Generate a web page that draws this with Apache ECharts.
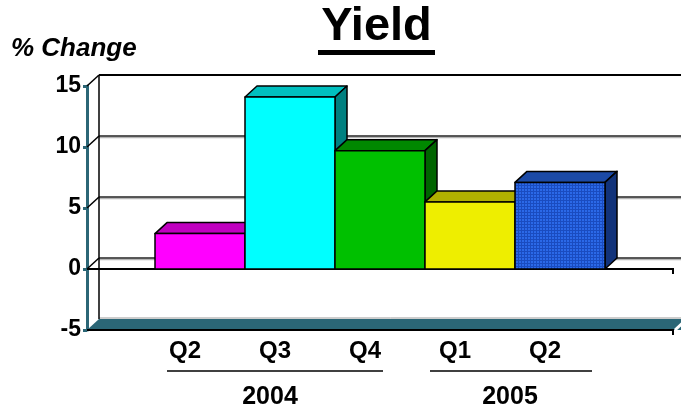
<!DOCTYPE html>
<html>
<head>
<meta charset="utf-8">
<script src="https://cdn.jsdelivr.net/npm/echarts@6/dist/echarts.min.js"></script>
<style>
  html, body { margin: 0; padding: 0; background: #ffffff; }
  #chart { width: 681px; height: 410px; }
</style>
</head>
<body>
<div id="chart"></div>
<script>
// Quarterly yield, % change
const categories = ['Q2', 'Q3', 'Q4', 'Q1', 'Q2'];
const values = [2.9, 14.1, 9.7, 5.5, 7.1];
const years = ['2004', '2005'];
const yMin = -5, yMax = 15, yStep = 5;

// Face colours for each bar: front, top, side
const frontColors = ['#ff00ff', '#00ffff', '#00c000', '#eeee00', null];
const topColors = ['#c000c0', '#00c0c0', '#008800', '#b0b000', '#1c4aa6'];
const sideColors = ['#900090', '#008080', '#006400', '#8a8a00', '#12337a'];

// Fine checkered fill for the last bar
function makePattern(light, dark) {
  const c = document.createElement('canvas');
  c.width = 3; c.height = 3;
  const g = c.getContext('2d');
  g.fillStyle = light; g.fillRect(0, 0, 3, 3);
  g.fillStyle = dark; g.fillRect(2, 0, 1, 3); g.fillRect(0, 2, 3, 1);
  return { image: c, repeat: 'repeat' };
}
frontColors[4] = makePattern('#2b69e8', '#1a4cc0');

const DX = 12, DY = -11;        // depth offset of the 3D box
const SIDE = 68;                // frame extends beyond the bar band on both sides
const TEAL = '#2b6676';
const FONT = '"Liberation Sans", Arial';

const chart = echarts.init(document.getElementById('chart'), null, { renderer: 'canvas' });

function frameItem(params, api) {
  const cs = params.coordSys;
  const L = cs.x - SIDE, R = cs.x + cs.width + SIDE;
  const y = v => api.coord([0, v])[1];
  const yB = y(yMin), y0 = y(0);
  const far = 700;
  const kids = [];
  // floor slab
  kids.push({ type: 'polygon', shape: { points: [[L, yB], [far, yB], [far, yB + DY], [L + DX, yB + DY]] },
    style: { fill: TEAL, stroke: null } });
  kids.push({ type: 'line', shape: { x1: L + DX, y1: yB + DY - 1, x2: far, y2: yB + DY - 1 }, style: { stroke: '#9a9a9a', lineWidth: 1 } });
  kids.push({ type: 'line', shape: { x1: R + 2, y1: yB, x2: R + 2 + DX, y2: yB + DY }, style: { stroke: '#ffffff', lineWidth: 3 } });
  // back wall grid lines
  for (let v = yMin + yStep; v <= yMax; v += yStep) {
    const yy = y(v) + DY;
    if (v === yMax) {
      kids.push({ type: 'line', shape: { x1: L + DX, y1: yy, x2: far, y2: yy }, style: { stroke: '#000', lineWidth: 2 } });
    } else {
      kids.push({ type: 'line', shape: { x1: L + DX, y1: yy + 1.5, x2: far, y2: yy + 1.5 }, style: { stroke: '#b4b4b4', lineWidth: 1.5 } });
      kids.push({ type: 'line', shape: { x1: L + DX, y1: yy, x2: far, y2: yy }, style: { stroke: '#222', lineWidth: 1.5 } });
    }
    // side wall diagonals
    kids.push({ type: 'line', shape: { x1: L, y1: y(v), x2: L + DX, y2: yy }, style: { stroke: '#000', lineWidth: 1.5 } });
  }
  // back wall left edge
  kids.push({ type: 'line', shape: { x1: L + DX, y1: y(yMax) + DY, x2: L + DX, y2: yB + DY }, style: { stroke: '#000', lineWidth: 1.5 } });
  // front zero line with end tick
  kids.push({ type: 'polyline', shape: { points: [[L, y0], [R, y0], [R, y0 + 5]] }, style: { stroke: '#000', lineWidth: 2, fill: null } });
  // front floor edge with end tick
  kids.push({ type: 'polyline', shape: { points: [[L, yB], [R, yB], [R, yB + 5]] }, style: { stroke: '#000', lineWidth: 2, fill: null } });
  return { type: 'group', children: kids };
}

function barItem(params, api) {
  const i = api.value(0), v = api.value(1);
  const base = api.coord([i, 0]);
  const top = api.coord([i, v]);
  const bw = api.size([1, 0])[0];
  const xl = base[0] - bw / 2, xr = base[0] + bw / 2;
  const y0 = base[1], yv = top[1];
  const edge = { stroke: '#000', lineWidth: 1.5, lineJoin: 'round' };
  return {
    type: 'group',
    children: [
      { type: 'polygon', shape: { points: [[xl, yv], [xr, yv], [xr + DX, yv + DY], [xl + DX, yv + DY]] },
        style: Object.assign({ fill: topColors[i] }, edge) },
      { type: 'polygon', shape: { points: [[xr, yv], [xr + DX, yv + DY], [xr + DX, y0 + DY], [xr, y0]] },
        style: Object.assign({ fill: sideColors[i] }, edge) },
      { type: 'rect', shape: { x: xl, y: yv, width: bw, height: y0 - yv },
        style: Object.assign({ fill: frontColors[i] }, edge) }
    ]
  };
}

const option = {
  backgroundColor: '#ffffff',
  animation: false,
  grid: { left: 155, right: 76, top: 86, bottom: 80 },
  xAxis: {
    type: 'category',
    data: categories,
    axisLine: { show: false },
    axisTick: { show: false },
    axisLabel: {
      interval: 0, margin: 9, color: '#000', fontFamily: FONT,
      fontWeight: 'bold', fontSize: 24, padding: [0, 30, 0, 0]
    }
  },
  yAxis: {
    type: 'value',
    min: yMin, max: yMax, interval: yStep,
    offset: SIDE,
    axisLine: { show: true, lineStyle: { color: TEAL, width: 3 } },
    axisTick: { show: true, length: 4, lineStyle: { color: TEAL, width: 3 } },
    splitLine: { show: false },
    axisLabel: { margin: 6, color: '#000', fontFamily: FONT, fontWeight: 'bold', fontSize: 23 }
  },
  graphic: [
    { type: 'text', x: 376.5, y: 27, style: { text: 'Yield', fill: '#000', font: 'bold 47px ' + FONT, align: 'center', verticalAlign: 'middle' }, z: 10 },
    { type: 'rect', shape: { x: 318, y: 50, width: 117, height: 5 }, style: { fill: '#000' } },
    { type: 'text', x: 11, y: 49, style: { text: '% Change', fill: '#000', font: 'italic bold 26px ' + FONT, verticalAlign: 'middle' } },
    { type: 'line', shape: { x1: 167, y1: 371, x2: 383, y2: 371 }, style: { stroke: '#000', lineWidth: 1.5 } },
    { type: 'line', shape: { x1: 430, y1: 371, x2: 592, y2: 371 }, style: { stroke: '#000', lineWidth: 1.5 } },
    { type: 'text', x: 270, y: 397, style: { text: years[0], fill: '#000', font: 'bold 25px ' + FONT, align: 'center', verticalAlign: 'middle' } },
    { type: 'text', x: 510, y: 397, style: { text: years[1], fill: '#000', font: 'bold 25px ' + FONT, align: 'center', verticalAlign: 'middle' } }
  ],
  series: [
    { type: 'custom', name: 'frame', renderItem: frameItem, data: [[0, 0]], clip: false, z: 1, silent: true },
    { type: 'custom', name: 'Yield', renderItem: barItem, data: values.map((v, i) => [i, v]), clip: false, z: 2 }
  ]
};
chart.setOption(option);
</script>
</body>
</html>
